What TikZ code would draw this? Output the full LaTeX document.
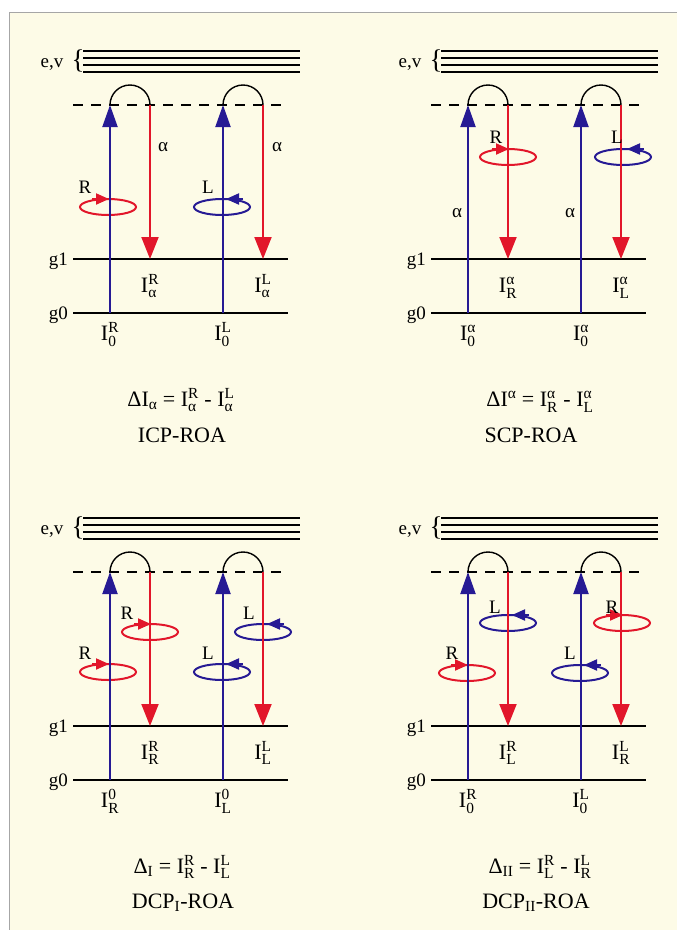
\documentclass[tikz,border=0pt]{standalone}
\usepackage{amsmath}
\usepackage{fontspec}
\setmainfont{Liberation Serif}
\usepackage{tikz}
\usetikzlibrary{arrows.meta}

\definecolor{paper}{RGB}{253,251,231}
\definecolor{beamblue}{RGB}{38,26,148}
\definecolor{beamred}{RGB}{226,22,42}

\newcommand{\Int}[2]{I$^{\text{#1}}_{\text{#2}}$}

\tikzset{
  lbl/.style={inner sep=0pt, font=\fontsize{19}{19}\selectfont},
  big/.style={inner sep=0pt, font=\fontsize{22}{26}\selectfont},
  evline/.style={line width=2.4pt},
  level/.style={line width=2pt},
  virt/.style={line width=2pt, dash pattern=on 10pt off 8pt},
  uparr/.style={beamblue, line width=2pt, -{Triangle[length=22pt,width=15pt]}},
  downarr/.style={beamred, line width=2pt, -{Triangle[length=22pt,width=17pt]}},
  hump/.style={line width=1.4pt},
  ringR/.style={beamred, line width=2pt},
  ringL/.style={beamblue, line width=2pt},
  ringtip/.style={-{Triangle[length=13pt,width=11pt]}},
}

% polarisation rings: #1 name, #2 centre
\newcommand{\ringright}[2]{%
  \coordinate (#1) at #2;
  \draw[ringR] (#1) ellipse[x radius=28pt, y radius=8pt];
  \draw[ringR, ringtip] ([shift={(-16,-8)}]#1) -- ([shift={(1,-8)}]#1);
}
\newcommand{\ringleft}[2]{%
  \coordinate (#1) at #2;
  \draw[ringL] (#1) ellipse[x radius=28pt, y radius=8pt];
  \draw[ringL, ringtip] ([shift={(21,-8)}]#1) -- ([shift={(4,-8)}]#1);
}

% one level scheme: #1 prefix, #2/#3 labels on g1, #4/#5 labels on g0
\newcommand{\roapanel}[5]{%
  \foreach \yy in {51,58,65,72}
    \draw[evline] (83,\yy) -- (300,\yy);
  \node[lbl, anchor=base] (#1ev) at (52,67) {e,v};
  \node[inner sep=0pt, font=\fontsize{27}{27}\selectfont] (#1brace) at (78,61) {\{};
  \coordinate (#1vl) at (73,105);
  \coordinate (#1vr) at (288,105);
  \coordinate (#1al) at (73,259);
  \coordinate (#1ar) at (288,259);
  \coordinate (#1gl) at (73,313);
  \coordinate (#1gr) at (288,313);
  \draw[virt] (#1vl) -- (#1vr);
  \draw[level] (#1al) -- (#1ar);
  \draw[level] (#1gl) -- (#1gr);
  \node[lbl, anchor=base east] (#1g1) at (68,265) {g1};
  \node[lbl, anchor=base east] (#1g0) at (68,319) {g0};
  \foreach \bx/\rx/\side in {110/150/a, 223/263/b} {
    \coordinate (#1b0\side) at (\bx,313);
    \coordinate (#1bt\side) at (\bx,105);
    \coordinate (#1rt\side) at (\rx,105);
    \coordinate (#1r1\side) at (\rx,259);
    \draw[uparr] (#1b0\side) -- (#1bt\side);
    \draw[downarr] (#1rt\side) -- (#1r1\side);
    \draw[hump] (#1bt\side) arc[start angle=180, end angle=0, radius=20pt];
  }
  \node[big, anchor=base] (#1ia) at (150,292) {#2};
  \node[big, anchor=base] (#1ib) at (263,292) {#3};
  \node[big, anchor=base] (#1oa) at (110,340) {#4};
  \node[big, anchor=base] (#1ob) at (223,340) {#5};
}

\begin{document}
\begin{tikzpicture}[x=1pt, y=-1pt]
  \useasboundingbox (0,0) rectangle (677,930);
  \fill[white] (0,0) rectangle (677,930);
  \filldraw[fill=paper, draw=gray!70, line width=1pt] (9,12) rectangle (690,945);

  % ICP
  \begin{scope}
    \ringright{icpR}{(108,207)}
    \ringleft{icpL}{(222,207)}
    \roapanel{icp}{\Int{R}{α}}{\Int{L}{α}}{\Int{R}{0}}{\Int{L}{0}}
    \node[lbl] (icpRt) at (85,187) {R};
    \node[lbl] (icpLt) at (208,187) {L};
    \node[lbl] (icpaa) at (163,147) {α};
    \node[lbl] (icpab) at (277,147) {α};
  \end{scope}

  % SCP
  \begin{scope}[shift={(358,0)}]
    \ringright{scpR}{(150,157)}
    \ringleft{scpL}{(265,157)}
    \roapanel{scp}{\Int{α}{R}}{\Int{α}{L}}{\Int{α}{0}}{\Int{α}{0}}
    \node[lbl] (scpRt) at (138,137) {R};
    \node[lbl] (scpLt) at (259,137) {L};
    \node[lbl] (scpaa) at (99,213) {α};
    \node[lbl] (scpab) at (212,213) {α};
  \end{scope}

  % DCP I
  \begin{scope}[shift={(0,467)}]
    \ringright{dcaR}{(108,205)}
    \ringright{dcaRR}{(150,165)}
    \ringleft{dcaL}{(222,205)}
    \ringleft{dcaLL}{(263,165)}
    \roapanel{dca}{\Int{R}{R}}{\Int{L}{L}}{\Int{0}{R}}{\Int{0}{L}}
    \node[lbl] (dcaRt) at (85,186) {R};
    \node[lbl] (dcaRRt) at (127,146) {R};
    \node[lbl] (dcaLt) at (208,186) {L};
    \node[lbl] (dcaLLt) at (249,146) {L};
  \end{scope}

  % DCP II
  \begin{scope}[shift={(358,467)}]
    \ringright{dcbR}{(109,206)}
    \ringleft{dcbL}{(150,156)}
    \ringleft{dcbLL}{(222,206)}
    \ringright{dcbRR}{(264,156)}
    \roapanel{dcb}{\Int{R}{L}}{\Int{L}{R}}{\Int{R}{0}}{\Int{L}{0}}
    \node[lbl] (dcbRt) at (94,186) {R};
    \node[lbl] (dcbLt) at (137,140) {L};
    \node[lbl] (dcbLLt) at (212,186) {L};
    \node[lbl] (dcbRRt) at (254,140) {R};
  \end{scope}

  % difference intensities
  \node[big, anchor=base] (eqicp) at (181,406) {ΔI$_{\text{α}}$ = \Int{R}{α} - \Int{L}{α}};
  \node[big, anchor=base] (icpname) at (182,442) {ICP-ROA};
  \node[big, anchor=base] (eqscp) at (540,406) {ΔI$^{\text{α}}$ = \Int{α}{R} - \Int{α}{L}};
  \node[big, anchor=base] (scpname) at (531,442) {SCP-ROA};
  \node[big, anchor=base] (eqdca) at (182,873) {Δ$_{\text{I}}$ = \Int{R}{R} - \Int{L}{L}};
  \node[big, anchor=base] (dcaname) at (183,908) {DCP$_{\text{I}}$-ROA};
  \node[big, anchor=base] (eqdcb) at (540,873) {Δ$_{\text{II}}$ = \Int{R}{L} - \Int{L}{R}};
  \node[big, anchor=base] (dcbname) at (536,908) {DCP$_{\text{II}}$-ROA};
\end{tikzpicture}
\end{document}
